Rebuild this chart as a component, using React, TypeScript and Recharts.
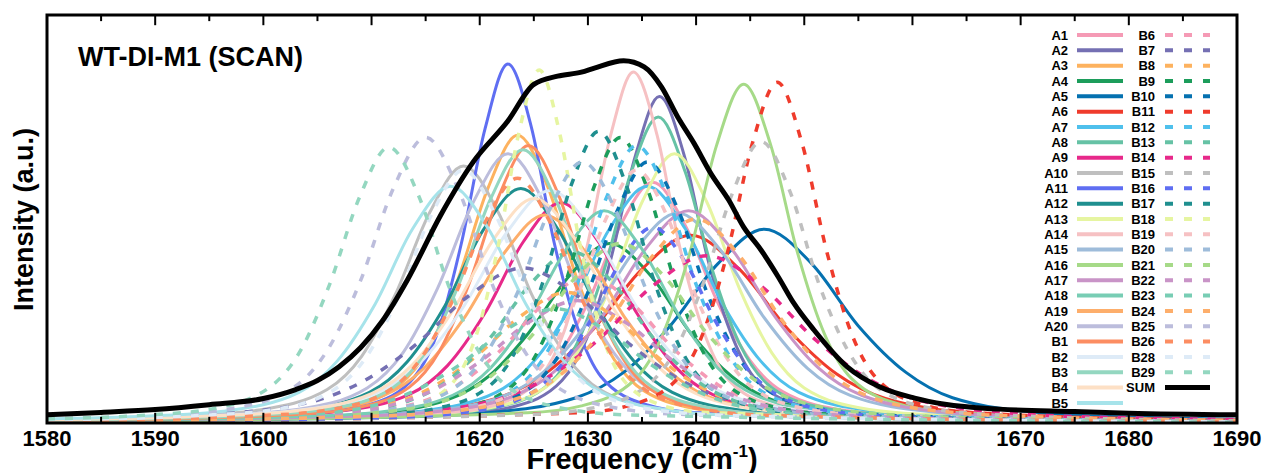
import { LineChart, Line, XAxis, YAxis, ReferenceLine } from "recharts";

type Pt = [number, number];

// frequency (cm-1), intensity (a.u., 0-100 of plot height)
const A1: Pt[] = [[1580,0.3],[1612,1.8],[1618,3.0],[1624,7.7],[1627,15.3],[1630,29.5],[1633,48.4],[1636,59],[1639,48.4],[1642,29.5],[1645,15.3],[1648,7.7],[1654,3.0],[1660,1.8],[1690,0.4]];
const A2: Pt[] = [[1580,0.25],[1618.6,2.4],[1623.1,4.0],[1627.6,10.4],[1629.9,20.8],[1632.1,40],[1634.4,65.6],[1636.6,80],[1638.9,65.6],[1641.1,40],[1643.4,20.8],[1645.6,10.4],[1650.1,4.0],[1654.6,2.4],[1690,0.3]];
const A3: Pt[] = [[1580,0.56],[1601.5,2.1],[1607,3.5],[1612.5,9.2],[1615.3,18.3],[1618,35.3],[1620.8,57.8],[1623.5,70.5],[1626.3,57.8],[1629,35.3],[1631.8,18.3],[1634.5,9.2],[1640,3.5],[1645.5,2.1],[1690,0.24]];
const A4: Pt[] = [[1580,0.46],[1602,1.3],[1609.5,2.2],[1617,5.7],[1620.8,11.4],[1624.5,22],[1628.3,36.1],[1632,44],[1635.8,36.1],[1639.5,22],[1643.3,11.4],[1647,5.7],[1654.5,2.2],[1662,1.3],[1690,0.37]];
const A5: Pt[] = [[1580,0.41],[1611.5,1.4],[1620.2,2.4],[1628.9,6.2],[1633.3,12.4],[1637.6,23.8],[1642,39],[1646.3,47.5],[1650.7,39],[1655,23.8],[1659.4,12.4],[1663.7,6.2],[1672.4,2.4],[1681.1,1.4],[1690,0.94]];
const A6: Pt[] = [[1580,0.53],[1603.5,1.4],[1612.5,2.3],[1621.5,6.0],[1626,12],[1630.5,23],[1635,37.7],[1639.5,46],[1644,37.7],[1648.5,23],[1653,12],[1657.5,6.0],[1666.5,2.3],[1675.5,1.4],[1690,0.73]];
const A7: Pt[] = [[1580,0.46],[1607.5,1.7],[1614.5,2.9],[1621.5,7.5],[1625,15.1],[1628.5,29],[1632,47.6],[1635.5,58],[1639,47.6],[1642.5,29],[1646,15.1],[1649.5,7.5],[1656.5,2.9],[1663.5,1.7],[1690,0.48]];
const A8: Pt[] = [[1580,0.29],[1616.5,2.3],[1621.5,3.8],[1626.5,9.8],[1629,19.5],[1631.5,37.5],[1634,61.5],[1636.5,75],[1639,61.5],[1641.5,37.5],[1644,19.5],[1646.5,9.8],[1651.5,3.8],[1656.5,2.3],[1690,0.33]];
const A9: Pt[] = [[1580,0.59],[1599.5,1.6],[1606.5,2.7],[1613.5,7.0],[1617,14],[1620.5,27],[1624,44.3],[1627.5,54],[1631,44.3],[1634.5,27],[1638,14],[1641.5,7.0],[1648.5,2.7],[1655.5,1.6],[1690,0.34]];
const A10: Pt[] = [[1580,0.84],[1593.3,1.9],[1599.6,3.2],[1605.9,8.2],[1609.1,16.4],[1612.2,31.5],[1615.4,51.7],[1618.5,63],[1621.7,51.7],[1624.8,31.5],[1628,16.4],[1631.1,8.2],[1637.4,3.2],[1643.7,1.9],[1690,0.24]];
const A11: Pt[] = [[1580,0.45],[1605.4,2.6],[1609.7,4.4],[1614,11.4],[1616.2,22.9],[1618.3,44],[1620.5,72.2],[1622.6,88],[1624.8,72.2],[1626.9,44],[1629.1,22.9],[1631.2,11.4],[1635.5,4.4],[1639.8,2.6],[1690,0.18]];
const A12: Pt[] = [[1580,0.73],[1595.8,1.7],[1602.8,2.9],[1609.8,7.5],[1613.3,15],[1616.8,28.8],[1620.3,47.2],[1623.8,57.5],[1627.3,47.2],[1630.8,28.8],[1634.3,15],[1637.8,7.5],[1644.8,2.9],[1651.8,1.7],[1690,0.32]];
const A13: Pt[] = [[1580,0.35],[1614,2.0],[1620,3.3],[1626,8.6],[1629,17.2],[1632,33],[1635,54.1],[1638,66],[1641,54.1],[1644,33],[1647,17.2],[1650,8.6],[1656,3.3],[1662,2.0],[1690,0.44]];
const A14: Pt[] = [[1580,0.27],[1617,2.6],[1621.3,4.3],[1625.6,11.2],[1627.8,22.4],[1629.9,43],[1632.1,70.5],[1634.2,86],[1636.4,70.5],[1638.5,43],[1640.7,22.4],[1642.8,11.2],[1647.1,4.3],[1651.4,2.6],[1690,0.26]];
const A15: Pt[] = [[1580,0.48],[1606.3,1.5],[1614.3,2.6],[1622.3,6.7],[1626.3,13.4],[1630.3,25.8],[1634.3,42.2],[1638.3,51.5],[1642.3,42.2],[1646.3,25.8],[1650.3,13.4],[1654.3,6.7],[1662.3,2.6],[1670.3,1.5],[1690,0.62]];
const A16: Pt[] = [[1580,0.25],[1624.4,2.5],[1629.4,4.2],[1634.4,10.8],[1636.9,21.6],[1639.4,41.5],[1641.9,68.1],[1644.4,83],[1646.9,68.1],[1649.4,41.5],[1651.9,21.6],[1654.4,10.8],[1659.4,4.2],[1664.4,2.5],[1690,0.5]];
const A17: Pt[] = [[1580,0.47],[1607.3,1.6],[1615.3,2.6],[1623.3,6.8],[1627.3,13.5],[1631.3,26],[1635.3,42.6],[1639.3,52],[1643.3,42.6],[1647.3,26],[1651.3,13.5],[1655.3,6.8],[1663.3,2.6],[1671.3,1.6],[1690,0.65]];
const A18: Pt[] = [[1580,0.48],[1603.5,1.6],[1610.5,2.6],[1617.5,6.8],[1621,13.5],[1624.5,26],[1628,42.6],[1631.5,52],[1635,42.6],[1638.5,26],[1642,13.5],[1645.5,6.8],[1652.5,2.6],[1659.5,1.6],[1690,0.37]];
const A19: Pt[] = [[1580,0.68],[1596,1.5],[1603.5,2.6],[1611,6.6],[1614.8,13.3],[1618.5,25.5],[1622.3,41.8],[1626,51],[1629.8,41.8],[1633.5,25.5],[1637.3,13.3],[1641,6.6],[1648.5,2.6],[1656,1.5],[1690,0.35]];
const A20: Pt[] = [[1580,0.77],[1596.6,2.0],[1603.1,3.3],[1609.6,8.6],[1612.9,17.2],[1616.1,33],[1619.4,54.1],[1622.6,66],[1625.9,54.1],[1629.1,33],[1632.4,17.2],[1635.6,8.6],[1642.1,3.3],[1648.6,2.0],[1690,0.31]];
const B1: Pt[] = [[1580,0.52],[1602.5,2.0],[1608,3.4],[1613.5,8.8],[1616.3,17.7],[1619,34],[1621.8,55.8],[1624.5,68],[1627.3,55.8],[1630,34],[1632.8,17.7],[1635.5,8.8],[1641,3.4],[1646.5,2.0],[1690,0.24]];
const B2: Pt[] = [[1580,0.84],[1594.5,1.7],[1602.5,2.9],[1610.5,7.4],[1614.5,14.8],[1618.5,28.5],[1622.5,46.7],[1626.5,57],[1630.5,46.7],[1634.5,28.5],[1638.5,14.8],[1642.5,7.4],[1650.5,2.9],[1658.5,1.7],[1690,0.45]];
const B3: Pt[] = [[1580,0.62],[1600,2.0],[1606,3.4],[1612,8.7],[1615,17.4],[1618,33.5],[1621,54.9],[1624,67],[1627,54.9],[1630,33.5],[1633,17.4],[1636,8.7],[1642,3.4],[1648,2.0],[1690,0.28]];
const B4: Pt[] = [[1580,0.76],[1595,1.7],[1602.5,2.8],[1610,7.2],[1613.8,14.3],[1617.5,27.5],[1621.3,45.1],[1625,55],[1628.8,45.1],[1632.5,27.5],[1636.3,14.3],[1640,7.2],[1647.5,2.8],[1655,1.7],[1690,0.37]];
const B5: Pt[] = [[1580,1.0],[1589.3,1.7],[1596.3,2.9],[1603.3,7.5],[1606.8,15.1],[1610.3,29],[1613.8,47.6],[1617.3,58],[1620.8,47.6],[1624.3,29],[1627.8,15.1],[1631.3,7.5],[1638.3,2.9],[1645.3,1.7],[1690,0.27]];
const B6: Pt[] = [[1580,0.46],[1598,1.1],[1606,1.8],[1614,4.7],[1618,9.4],[1622,18],[1626,29.5],[1630,36],[1634,29.5],[1638,18],[1642,9.4],[1646,4.7],[1654,1.8],[1662,1.1],[1690,0.32]];
const B7: Pt[] = [[1580,0.95],[1584,1.1],[1594,1.9],[1604,4.9],[1609,9.9],[1614,19],[1619,31.2],[1624,38],[1629,31.2],[1634,19],[1639,9.9],[1644,4.9],[1654,1.9],[1664,1.1],[1690,0.44]];
const B8: Pt[] = [[1580,0.5],[1594,1.0],[1602.5,1.6],[1611,4.2],[1615.3,8.3],[1619.5,16],[1623.8,26.2],[1628,32],[1632.3,26.2],[1636.5,16],[1640.8,8.3],[1645,4.2],[1653.5,1.6],[1662,1.0],[1690,0.3]];
const B9: Pt[] = [[1580,0.31],[1613,2.1],[1618,3.5],[1623,9.1],[1625.5,18.2],[1628,35],[1630.5,57.4],[1633,70],[1635.5,57.4],[1638,35],[1640.5,18.2],[1643,9.1],[1648,3.5],[1653,2.1],[1690,0.27]];
const B10: Pt[] = [[1580,0.31],[1613.5,1.9],[1619,3.2],[1624.5,8.3],[1627.3,16.6],[1630,32],[1632.8,52.5],[1635.5,64],[1638.3,52.5],[1641,32],[1643.8,16.6],[1646.5,8.3],[1652,3.2],[1657.5,1.9],[1690,0.33]];
const B11: Pt[] = [[1580,0.19],[1629.1,2.5],[1633.7,4.2],[1638.3,10.9],[1640.6,21.7],[1642.9,41.8],[1645.2,68.5],[1647.5,83.5],[1649.8,68.5],[1652.1,41.8],[1654.4,21.7],[1656.7,10.9],[1661.3,4.2],[1665.9,2.5],[1690,0.49]];
const B12: Pt[] = [[1580,0.35],[1612.5,2.0],[1618,3.4],[1623.5,8.8],[1626.3,17.7],[1629,34],[1631.8,55.8],[1634.5,68],[1637.3,55.8],[1640,34],[1642.8,17.7],[1645.5,8.8],[1651,3.4],[1656.5,2.0],[1690,0.33]];
const B13: Pt[] = [[1580,0.5],[1598.5,1.3],[1606,2.1],[1613.5,5.5],[1617.3,10.9],[1621,21],[1624.8,34.4],[1628.5,42],[1632.3,34.4],[1636,21],[1639.8,10.9],[1643.5,5.5],[1651,2.1],[1658.5,1.3],[1690,0.31]];
const B14: Pt[] = [[1580,0.55],[1601,1.2],[1611,2.1],[1621,5.3],[1626,10.7],[1631,20.5],[1636,33.6],[1641,41],[1646,33.6],[1651,20.5],[1656,10.7],[1661,5.3],[1671,2.1],[1681,1.2],[1690,0.85]];
const B15: Pt[] = [[1580,0.22],[1624.8,2.1],[1630.1,3.5],[1635.4,9.0],[1638.1,17.9],[1640.7,34.5],[1643.4,56.6],[1646,69],[1648.7,56.6],[1651.3,34.5],[1654,17.9],[1656.6,9.0],[1661.9,3.5],[1667.2,2.1],[1690,0.5]];
const B16: Pt[] = [[1580,0.28],[1612,1.4],[1618,2.4],[1624,6.2],[1627,12.5],[1630,24],[1633,39.4],[1636,48],[1639,39.4],[1642,24],[1645,12.5],[1648,6.2],[1654,2.4],[1660,1.4],[1690,0.3]];
const B17: Pt[] = [[1580,0.34],[1611,2.1],[1616,3.6],[1621,9.3],[1623.5,18.6],[1626,35.8],[1628.5,58.6],[1631,71.5],[1633.5,58.6],[1636,35.8],[1638.5,18.6],[1641,9.3],[1646,3.6],[1651,2.1],[1690,0.26]];
const B18: Pt[] = [[1580,0.3],[1610.3,2.6],[1614.1,4.3],[1617.9,11.2],[1619.8,22.5],[1621.7,43.3],[1623.6,70.9],[1625.5,86.5],[1627.4,70.9],[1629.3,43.3],[1631.2,22.5],[1633.1,11.2],[1636.9,4.3],[1640.7,2.6],[1690,0.15]];
const B19: Pt[] = [[1580,0.32],[1612.5,1.9],[1618,3.1],[1623.5,8.1],[1626.3,16.1],[1629,31],[1631.8,50.8],[1634.5,62],[1637.3,50.8],[1640,31],[1642.8,16.1],[1645.5,8.1],[1651,3.1],[1656.5,1.9],[1690,0.3]];
const B20: Pt[] = [[1580,0.47],[1605.5,1.9],[1611.5,3.2],[1617.5,8.3],[1620.5,16.6],[1623.5,32],[1626.5,52.5],[1629.5,64],[1632.5,52.5],[1635.5,32],[1638.5,16.6],[1641.5,8.3],[1647.5,3.2],[1653.5,1.9],[1690,0.31]];
const B21: Pt[] = [[1580,0.5],[1601,1.3],[1609,2.2],[1617,5.7],[1621,11.4],[1625,22],[1629,36.1],[1633,44],[1637,36.1],[1641,22],[1645,11.4],[1649,5.7],[1657,2.2],[1665,1.3],[1690,0.43]];
const B22: Pt[] = [[1580,0.51],[1593,0.9],[1602,1.5],[1611,3.9],[1615.5,7.8],[1620,15],[1624.5,24.6],[1629,30],[1633.5,24.6],[1638,15],[1642.5,7.8],[1647,3.9],[1656,1.5],[1665,0.9],[1690,0.33]];
const B23: Pt[] = [[1580,0.51],[1591,0.8],[1600,1.4],[1609,3.6],[1613.5,7.3],[1618,14],[1622.5,23],[1627,28],[1631.5,23],[1636,14],[1640.5,7.3],[1645,3.6],[1654,1.4],[1663,0.8],[1690,0.29]];
const B24: Pt[] = [[1580,0.44],[1608,1.5],[1616,2.5],[1624,6.5],[1628,13],[1632,25],[1636,41],[1640,50],[1644,41],[1648,25],[1652,13],[1656,6.5],[1664,2.5],[1672,1.5],[1690,0.64]];
const B25: Pt[] = [[1580,1.0],[1591,2.1],[1597,3.5],[1603,9.1],[1606,18.2],[1609,35],[1612,57.4],[1615,70],[1618,57.4],[1621,35],[1624,18.2],[1627,9.1],[1633,3.5],[1639,2.1],[1690,0.22]];
const B26: Pt[] = [[1580,0.57],[1599.5,1.8],[1605.5,3.0],[1611.5,7.8],[1614.5,15.6],[1617.5,30],[1620.5,49.2],[1623.5,60],[1626.5,49.2],[1629.5,30],[1632.5,15.6],[1635.5,7.8],[1641.5,3.0],[1647.5,1.8],[1690,0.24]];
const B28: Pt[] = [[1580,0.75],[1594.5,1.9],[1600.5,3.1],[1606.5,8.1],[1609.5,16.1],[1612.5,31],[1615.5,50.8],[1618.5,62],[1621.5,50.8],[1624.5,31],[1627.5,16.1],[1630.5,8.1],[1636.5,3.1],[1642.5,1.9],[1690,0.22]];
const B29: Pt[] = [[1580,1.0],[1589.6,2.0],[1595.1,3.4],[1600.6,8.8],[1603.4,17.6],[1606.1,33.8],[1608.9,55.4],[1611.6,67.6],[1614.4,55.4],[1617.1,33.8],[1619.9,17.6],[1622.6,8.8],[1628.1,3.4],[1633.6,2.0],[1690,0.17]];
const SUM: Pt[] = [[1580,2.0],[1585,2.6],[1590,3.3],[1595,4.5],[1600,6.0],[1603,8.2],[1605,10.4],[1607,13.8],[1609,18.5],[1611,25],[1613.3,35],[1616.4,51],[1619.4,64],[1622.6,74],[1625,83],[1627.2,85],[1629.4,86],[1630.6,87],[1633.3,88.8],[1635.2,87.3],[1636.8,82.4],[1638.3,75],[1639.8,68.6],[1641.4,61],[1643,54.7],[1644.4,48],[1646,42.4],[1647.6,35.8],[1649,29.5],[1650.9,22.8],[1654,13.7],[1657,8.8],[1660.2,6.1],[1663,4.6],[1668,3.4],[1675,2.8],[1680,2.4],[1690,2.0]];

const NAMES = ["A1","A2","A3","A4","A5","A6","A7","A8","A9","A10","A11","A12","A13","A14","A15","A16","A17","A18","A19","A20","B1","B2","B3","B4","B5","B6","B7","B8","B9","B10","B11","B12","B13","B14","B15","B16","B17","B18","B19","B20","B21","B22","B23","B24","B25","B26","B28","B29"];
const CURVES = [A1,A2,A3,A4,A5,A6,A7,A8,A9,A10,A11,A12,A13,A14,A15,A16,A17,A18,A19,A20,B1,B2,B3,B4,B5,B6,B7,B8,B9,B10,B11,B12,B13,B14,B15,B16,B17,B18,B19,B20,B21,B22,B23,B24,B25,B26,B28,B29];

const MAJOR_TICKS = [1580,1590,1600,1610,1620,1630,1640,1650,1660,1670,1680,1690];
const MINOR_TICKS = [1585,1595,1605,1615,1625,1635,1645,1655,1665,1675,1685];

// 25-colour cycle; the second pass (B6 on) repeats it dashed
const COLORS = [
  "#f59ab5","#7570b3","#fdb25f","#1c9d5b","#0571b0","#ef3b2c","#4fc0ec","#66c2a5","#e7298a","#bfbfbf",
  "#5f6ef2","#1f8f8f","#e6f5a1","#f6c1c3","#9ebcda","#a6da88","#c994c7","#78cdb4","#fdae6b","#bcbddc",
  "#fc8d62","#deebf7","#94d7c0","#fde0c5","#a6e3ea",
];

const FONT = "'Liberation Sans', Arial, sans-serif";
const DASH = "8 10";

const series = NAMES.map((name, i) => ({
  name,
  color: COLORS[i % COLORS.length],
  dashed: i >= COLORS.length,
  rows: CURVES[i].map(([f, v]) => ({ f, v })),
}));
const sumRows = SUM.map(([f, v]) => ({ f, v }));

const W = 1268;
const H = 473;
const PLOT = { left: 47, right: 1237, top: 15, bottom: 423 };
const ROW = 15.33;

export default function App() {
  const col1 = series.slice(0, 25);
  const col2 = series.slice(25);
  return (
    <div style={{ position: "relative", width: W, height: H, background: "#fff" }}>
      <style>{"body{margin:0}"}</style>
      <LineChart
        width={W}
        height={H}
        margin={{ top: PLOT.top, right: W - PLOT.right, left: PLOT.left, bottom: 20 }}
      >
        <XAxis
          dataKey="f"
          type="number"
          domain={[1580, 1690]}
          ticks={MAJOR_TICKS}
          interval={0}
          allowDataOverflow
          height={30}
          axisLine={false}
          tickLine={false}
          tickSize={0}
          tickMargin={7}
          tick={{ fill: "#000", fontSize: 22, fontWeight: "bold", fontFamily: FONT }}
        />
        <YAxis hide type="number" domain={[0, 100]} allowDataOverflow />
        {series.map((s) => (
          <Line
            key={s.name}
            data={s.rows}
            dataKey="v"
            name={s.name}
            type="monotone"
            stroke={s.color}
            strokeWidth={s.dashed ? 3.5 : 3}
            strokeDasharray={s.dashed ? DASH : undefined}
            dot={false}
            activeDot={false}
            isAnimationActive={false}
          />
        ))}
        <Line
          data={sumRows}
          dataKey="v"
          name="SUM"
          type="monotone"
          stroke="#000"
          strokeWidth={5}
          dot={false}
          activeDot={false}
          isAnimationActive={false}
        />
        {MAJOR_TICKS.slice(1, -1).map((t) => (
          <ReferenceLine key={"mb" + t} segment={[{ x: t, y: 0 }, { x: t, y: 2.5 }]} stroke="#000" strokeWidth={2} />
        ))}
        {MAJOR_TICKS.slice(1, -1).map((t) => (
          <ReferenceLine key={"mt" + t} segment={[{ x: t, y: 100 }, { x: t, y: 97.5 }]} stroke="#000" strokeWidth={2} />
        ))}
        {MINOR_TICKS.map((t) => (
          <ReferenceLine key={"nb" + t} segment={[{ x: t, y: 0 }, { x: t, y: 1.5 }]} stroke="#000" strokeWidth={2} />
        ))}
        {MINOR_TICKS.map((t) => (
          <ReferenceLine key={"nt" + t} segment={[{ x: t, y: 100 }, { x: t, y: 98.5 }]} stroke="#000" strokeWidth={2} />
        ))}
      </LineChart>

      <svg
        width={W}
        height={H}
        style={{ position: "absolute", left: 0, top: 0, pointerEvents: "none" }}
        fontFamily={FONT}
        fontWeight="bold"
      >
        <rect
          x={PLOT.left}
          y={PLOT.top}
          width={PLOT.right - PLOT.left}
          height={PLOT.bottom - PLOT.top}
          fill="none"
          stroke="#000"
          strokeWidth={3}
        />
        <text x={78} y={66} fontSize={27}>WT-DI-M1 (SCAN)</text>
        <text transform="translate(32.5,219.5) rotate(-90)" textAnchor="middle" fontSize={27}>
          Intensity (a.u.)
        </text>
        <text x={642} y={469} textAnchor="middle" fontSize={29}>
          Frequency (cm
          <tspan fontSize={17} dy={-12}>-1</tspan>
          <tspan dy={12}>)</tspan>
        </text>

        {col1.map((s, i) => {
          const y = 35 + i * ROW;
          return (
            <g key={"l1" + s.name}>
              <text x={1068} y={y + 4.6} fontSize={13} textAnchor="end">{s.name}</text>
              <line x1={1077} x2={1123} y1={y} y2={y} stroke={s.color} strokeWidth={4} />
            </g>
          );
        })}
        {col2.map((s, i) => {
          const y = 35 + i * ROW;
          return (
            <g key={"l2" + s.name}>
              <text x={1155} y={y + 4.6} fontSize={13} textAnchor="end">{s.name}</text>
              <line x1={1165} x2={1210} y1={y} y2={y} stroke={s.color} strokeWidth={4} strokeDasharray="8 11" />
            </g>
          );
        })}
        <text x={1155} y={35 + col2.length * ROW + 4.6} fontSize={13} textAnchor="end">SUM</text>
        <line
          x1={1165}
          x2={1210}
          y1={35 + col2.length * ROW}
          y2={35 + col2.length * ROW}
          stroke="#000"
          strokeWidth={5}
        />
      </svg>
    </div>
  );
}
